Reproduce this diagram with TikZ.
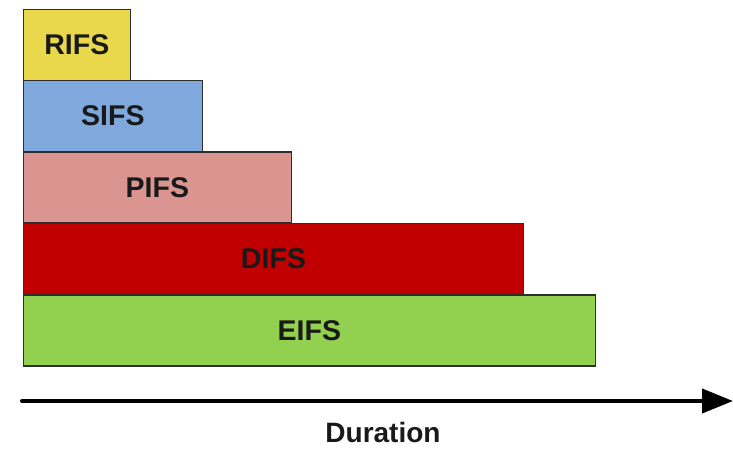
\documentclass[tikz,border=0pt]{standalone}
\usepackage{fontspec}
\setmainfont{Liberation Sans}
\usetikzlibrary{arrows.meta}
\definecolor{rifsyellow}{HTML}{E9D84B}
\definecolor{sifsblue}{HTML}{7FA8DC}
\definecolor{pifspink}{HTML}{DA9590}
\definecolor{difsred}{HTML}{C00000}
\definecolor{eifsgreen}{HTML}{92D050}
\definecolor{edgegray}{HTML}{2E2E2E}
\tikzset{
  ifsbar/.style={draw=edgegray, line width=1.7pt, rectangle, anchor=north west,
    inner sep=0pt, minimum height=71pt, align=center,
    font=\fontsize{28.5}{34}\selectfont\bfseries, text=black!90},
  axis/.style={line width=4pt, line cap=round, -{Triangle[length=31pt,width=24pt]}},
  axislabel/.style={font=\fontsize{28}{33}\selectfont\bfseries, text=black!90, inner sep=0pt}
}
\begin{document}
\begin{tikzpicture}[x=1pt, y=-1pt]
  \useasboundingbox (0,0) rectangle (733,448);
  % stacked interframe space bars, shortest on top
  \node[ifsbar, fill=rifsyellow, minimum width=107pt] (rifs) at (22.5,8.5) {RIFS};
  \node[ifsbar, fill=sifsblue, minimum width=179pt] (sifs) at (22.5,79.5) {SIFS};
  \node[ifsbar, fill=pifspink, minimum width=268pt] (pifs) at (22.5,151) {PIFS};
  \node[ifsbar, fill=difsred, minimum width=500pt] (difs) at (22.5,222.5) {DIFS};
  \node[ifsbar, fill=eifsgreen, minimum width=572pt] (eifs) at (22.5,294) {EIFS};
  % time axis
  \coordinate (axisstart) at (22,401);
  \coordinate (axisend) at (733,401);
  \draw[axis] (axisstart) -- (axisend);
  \node[axislabel] (duration) at (383,432) {Duration};
\end{tikzpicture}
\end{document}
